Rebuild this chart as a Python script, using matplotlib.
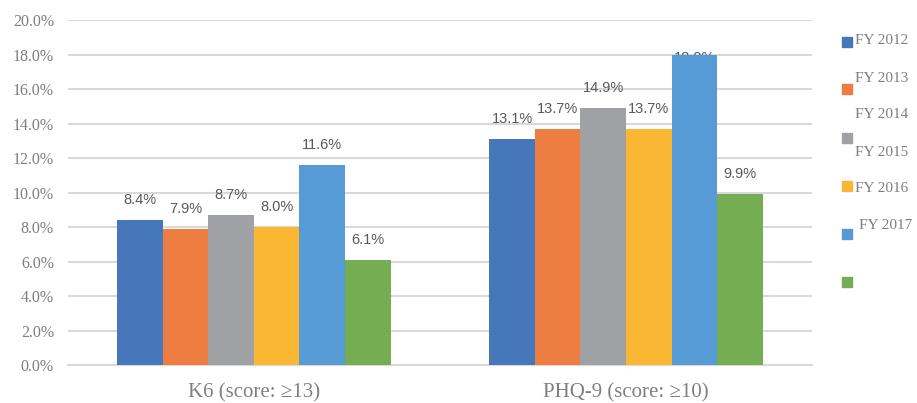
import matplotlib.pyplot as plt
from matplotlib.patches import Rectangle
import numpy as np

# data
categories = ['K6 (score: \u226513)', 'PHQ-9 (score: \u226510)']
years = ['FY 2012', 'FY 2013', 'FY 2014', 'FY 2015', 'FY 2016', 'FY 2017']
values = {
    'FY 2012': [8.4, 13.1],
    'FY 2013': [7.9, 13.7],
    'FY 2014': [8.7, 14.9],
    'FY 2015': [8.0, 13.7],
    'FY 2016': [11.6, 18.0],
    'FY 2017': [6.1, 9.9],
}
colors = ['#4677BA', '#EE7D42', '#A0A1A5', '#FAB733', '#569BD6', '#74AD52']
yticks = np.arange(0, 20.1, 2)

fig = plt.figure(figsize=(9.17, 4.03), dpi=100)
ax = fig.add_axes([0.074, 0.0943, 0.8115, 0.856])

x = np.arange(len(categories))
bw = 0.1225
n = len(years)
for i, yr in enumerate(years):
    xs = x + (i - (n - 1) / 2) * bw
    ax.bar(xs, values[yr], width=bw, color=colors[i], zorder=3)
    for xx, v in zip(xs, values[yr]):
        if v >= 18:
            # this one sits half behind the bar in the original
            ax.text(xx, v - 0.2, f'{v:.1f}%', ha='center', va='center',
                    fontsize=10.5, family='Liberation Sans', color='#595959', zorder=2)
        else:
            ax.text(xx, v + 0.75, f'{v:.1f}%', ha='center', va='bottom',
                    fontsize=10.5, family='Liberation Sans', color='#595959', zorder=4)

ax.set_xlim(-0.5, len(categories) - 0.5)
ax.set_ylim(0, 20)
ax.set_yticks(yticks)
ax.set_yticklabels([f'{t:.1f}%' for t in yticks], family='Liberation Serif',
                   fontsize=11.5, color='#7F7F7F')
ax.set_xticks(x)
ax.set_xticklabels(categories, family=['Liberation Serif', 'DejaVu Serif'],
                   fontsize=15, color='#7F7F7F')
ax.tick_params(axis='both', length=0)
ax.tick_params(axis='y', pad=10)
ax.tick_params(axis='x', pad=13)
for s in ['top', 'right', 'left']:
    ax.spines[s].set_visible(False)
ax.spines['bottom'].set_color('#D9D9D9')
ax.spines['bottom'].set_linewidth(1.5)
ax.yaxis.grid(True, color='#D9D9D9', linewidth=1.5, zorder=0)
ax.set_axisbelow(True)

# legend drawn by hand: squares and labels drift apart like in the original
W, H = 917, 403
sq_y = [42, 89, 138, 186, 234, 282]
lab_y = [41, 78, 115, 152, 189, 226]
lab_x = [855, 855, 855, 855, 855, 859]
for i, c in enumerate(colors):
    fig.patches.append(Rectangle(((842) / W, 1 - (sq_y[i] + 5) / H), 10 / W, 10 / H,
                                 transform=fig.transFigure, color=c))
for i, yr in enumerate(years):
    fig.text(lab_x[i] / W, 1 - lab_y[i] / H, yr, ha='left', va='center',
             family='Liberation Serif', fontsize=11, color='#7F7F7F')

plt.savefig('out.png', dpi=100)
